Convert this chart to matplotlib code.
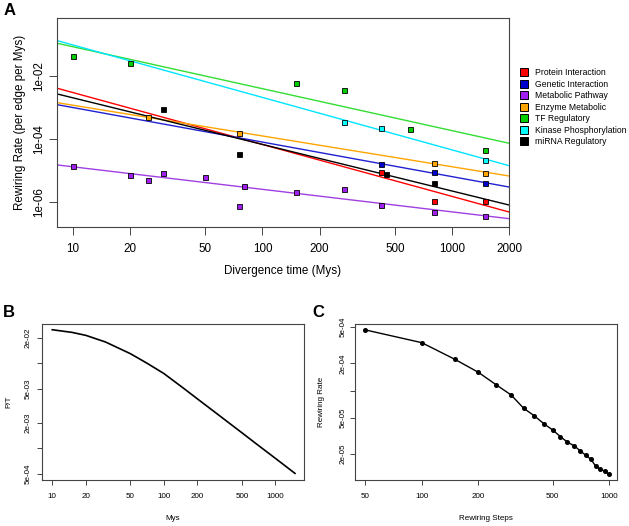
import numpy as np
import matplotlib
matplotlib.use("Agg")
import matplotlib.pyplot as plt
from matplotlib.lines import Line2D

plt.rcParams['font.family'] = ['Liberation Sans', 'DejaVu Sans']

# ---- panel A data ----
categories = ["Protein Interaction", "Genetic Interaction", "Metabolic Pathway",
              "Enzyme Metabolic", "TF Regulatory", "Kinase Phosphorylation",
              "miRNA Regulatory"]
colors = ["#FF0000", "#0000CD", "#A020F0", "#FFA500", "#00CD00", "#00FFFF", "#000000"]
line_colors = ["#FF0000", "#2020D0", "#A040E0", "#FFA500", "#33DD33", "#00E5FF", "#000000"]

protein_x = [420, 800, 1500]
protein_y = [8.8e-6, 1.1e-6, 1.1e-6]
genetic_x = [420, 800, 1500]
genetic_y = [1.6e-5, 9e-6, 4e-6]
metabolic_x = [10, 20, 25, 30, 50, 75, 80, 150, 270, 420, 800, 1500]
metabolic_y = [1.42e-5, 7.4e-6, 5e-6, 8.3e-6, 6.2e-6, 7.5e-7, 3.2e-6, 2.1e-6,
               2.6e-6, 7.9e-7, 4.8e-7, 3.7e-7]
enzyme_x = [25, 75, 800, 1500]
enzyme_y = [4.9e-4, 1.5e-4, 1.7e-5, 8.3e-6]
tf_x = [10, 20, 150, 270, 600, 1500]
tf_y = [0.044, 0.0264, 5.9e-3, 3.5e-3, 2.07e-4, 4.4e-5]
kinase_x = [270, 420, 1500]
kinase_y = [3.5e-4, 2.2e-4, 2.2e-5]
mirna_x = [30, 75, 450, 800]
mirna_y = [8.7e-4, 3.3e-5, 7.8e-6, 4e-6]

# fitted lines: log10(rate) = a + b*log10(time)
fit_a = [-0.882, -1.908, -4.170, -1.954, 0.257, 0.645, -1.218]
fit_b = [-1.647, -1.096, -0.715, -0.976, -1.331, -1.664, -1.478]

xs_all = [protein_x, genetic_x, metabolic_x, enzyme_x, tf_x, kinase_x, mirna_x]
ys_all = [protein_y, genetic_y, metabolic_y, enzyme_y, tf_y, kinase_y, mirna_y]

# ---- panel B data ----
b_mys = [10, 15, 20, 30, 50, 70, 100, 150, 200, 300, 500, 700, 1000, 1500]
b_pt = [0.0248, 0.0231, 0.0213, 0.0178, 0.0130, 0.0101, 0.00759, 0.0051, 0.00382,
        0.00255, 0.00153, 0.00109, 0.000764, 0.000508]

# ---- panel C data ----
c_steps = [50, 100, 150, 200, 250, 300, 350, 400, 450, 500, 550, 600, 650, 700,
           750, 800, 850, 900, 950, 1000]
c_rate = [4.67e-4, 3.38e-4, 2.22e-4, 1.60e-4, 1.16e-4, 8.98e-5, 6.41e-5, 5.27e-5,
          4.31e-5, 3.70e-5, 3.12e-5, 2.71e-5, 2.48e-5, 2.19e-5, 1.95e-5, 1.76e-5,
          1.47e-5, 1.36e-5, 1.30e-5, 1.20e-5]

frame_col = "#444444"


def style_axes(ax, ticklen, fs, pad):
    for s in ax.spines.values():
        s.set_color(frame_col)
        s.set_linewidth(0.8)
    ax.tick_params(which="major", direction="out", length=ticklen, width=0.7,
                   color=frame_col, labelsize=fs, pad=pad)
    ax.minorticks_off()


fig = plt.figure(figsize=(6.29, 5.26), dpi=100)

# ---------------- A ----------------
axA = fig.add_axes([0.0906, 0.5684, 0.7186, 0.3974])
axA.set_xscale("log")
axA.set_yscale("log")
axA.set_xlim(8.23, 2000)
axA.set_ylim(1.6e-7, 0.69)
xl = np.array(axA.get_xlim())
for a, b, c in zip(fit_a, fit_b, line_colors):
    axA.plot(xl, 10 ** (a + b * np.log10(xl)), color=c, lw=1.0)
for xs, ys, c in zip(xs_all, ys_all, colors):
    axA.plot(xs, ys, "s", color=c, ms=3.6, mec="black", mew=0.6, ls="none")
axA.set_xticks([10, 20, 50, 100, 200, 500, 1000, 2000])
axA.set_xticklabels(["10", "20", "50", "100", "200", "500", "1000", "2000"])
axA.set_yticks([1e-2, 1e-4, 1e-6])
axA.set_yticklabels(["1e-02", "1e-04", "1e-06"], rotation=90, va="center")
style_axes(axA, 5.5, 8.4, 6)
axA.tick_params(axis="y", pad=3)
axA.set_xlabel("Divergence time (Mys)", fontsize=8.4, labelpad=7)
axA.set_ylabel("Rewiring Rate (per edge per Mys)", fontsize=8.4, labelpad=5)

handles = [Line2D([], [], marker="s", ls="none", color=c, mec="black", mew=0.7, ms=5.5)
           for c in colors]
axA.legend(handles, categories, loc="upper left", bbox_to_anchor=(0.821, 0.879),
           bbox_transform=fig.transFigure, frameon=False, fontsize=6.2,
           handlelength=0.8, handletextpad=0.9, labelspacing=0.3, borderpad=0)

# ---------------- B ----------------
axB = fig.add_axes([0.0668, 0.0875, 0.4165, 0.2966])
axB.set_xscale("log")
axB.set_yscale("log")
axB.plot(b_mys, b_pt, color="black", lw=1.2)
axB.set_xlim(8.09, 1807)
axB.set_ylim(4.25e-4, 0.029)
axB.set_xticks([10, 20, 50, 100, 200, 500, 1000])
axB.set_xticklabels(["10", "20", "50", "100", "200", "500", "1000"])
axB.set_yticks([2e-2, 1e-2, 5e-3, 2e-3, 1e-3, 5e-4])
axB.set_yticklabels(["2e-02", "", "5e-03", "2e-03", "", "5e-04"], rotation=90, va="center")
style_axes(axB, 3.5, 5.8, 6)
axB.tick_params(axis="y", pad=4)
axB.set_xlabel("Mys", fontsize=5.8, labelpad=11)
axB.set_ylabel("P/T", fontsize=5.8, labelpad=9)

# ---------------- C ----------------
axC = fig.add_axes([0.5649, 0.0875, 0.4165, 0.2966])
axC.set_xscale("log")
axC.set_yscale("log")
axC.plot(c_steps, c_rate, color="black", lw=1.0, marker="o", ms=2.6)
axC.set_xlim(44.2, 1107)
axC.set_ylim(1.04e-5, 5.43e-4)
axC.set_xticks([50, 100, 200, 500, 1000])
axC.set_xticklabels(["50", "100", "200", "500", "1000"])
axC.set_yticks([5e-4, 2e-4, 1e-4, 5e-5, 2e-5])
axC.set_yticklabels(["5e-04", "2e-04", "", "5e-05", "2e-05"], rotation=90, va="center")
style_axes(axC, 3.5, 5.8, 6)
axC.tick_params(axis="y", pad=3)
axC.set_xlabel("Rewiring Steps", fontsize=5.8, labelpad=11)
axC.set_ylabel("Rewiring Rate", fontsize=5.8, labelpad=10)

# panel letters
fig.text(0.005, 0.98, "A", fontsize=12, fontweight="bold", va="center", ha="left")
fig.text(0.005, 0.405, "B", fontsize=12, fontweight="bold", va="center", ha="left")
fig.text(0.497, 0.405, "C", fontsize=12, fontweight="bold", va="center", ha="left")

fig.savefig("out.png", dpi=100)
